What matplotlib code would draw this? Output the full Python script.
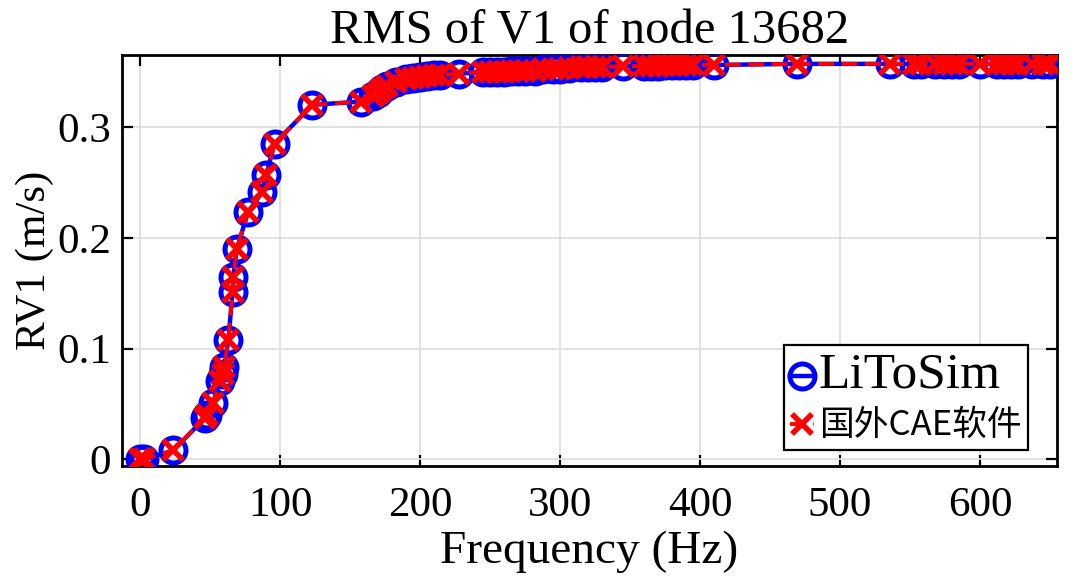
import numpy as np
import matplotlib
matplotlib.use("Agg")
import matplotlib.pyplot as plt

# frequency points (Hz) and RMS of V1 (m/s)
freq = [0, 3, 23.5, 46, 48, 52, 57, 59, 60, 63, 66, 66.5, 69, 77, 87, 90, 96,
        123, 158, 166, 170, 173, 176, 183, 190, 195, 200, 205, 210, 214,
        228, 245, 250, 255, 260, 265, 270, 275, 282, 288, 295, 300,
        306, 315, 320, 325, 330, 345, 360, 365, 370, 375, 380, 385, 390, 395,
        410, 469, 536, 553, 558, 568, 574, 580, 585, 600, 612, 617, 622, 627,
        637, 645, 650]
rv1_litosim = [0.000, 0.000, 0.008, 0.037, 0.040, 0.051, 0.071, 0.077, 0.083,
               0.108, 0.151, 0.165, 0.190, 0.223, 0.241, 0.257, 0.285,
               0.320, 0.323, 0.328, 0.331, 0.334, 0.337, 0.341, 0.343, 0.344,
               0.345, 0.346, 0.347, 0.347,
               0.348, 0.350, 0.350, 0.350, 0.350, 0.351, 0.351, 0.351, 0.351,
               0.352, 0.352, 0.352,
               0.353, 0.354, 0.354, 0.354, 0.354, 0.355, 0.355, 0.355, 0.355,
               0.356, 0.356, 0.356, 0.356, 0.356,
               0.356, 0.357, 0.357, 0.357, 0.357, 0.357, 0.357, 0.357, 0.357,
               0.357, 0.357, 0.357, 0.357, 0.357, 0.357, 0.357, 0.357]
rv1_cae = list(rv1_litosim)

serif = "Liberation Serif"

fig = plt.figure(figsize=(10.72, 5.76), dpi=100)
# axes box: 122..1057 px wide, 55..466 px tall
ax = fig.add_axes([122 / 1072, 1 - 466 / 576, 935 / 1072, 411 / 576])

ax.plot(freq, rv1_litosim, "-o", color="blue", lw=3.2, ms=18,
        mfc="none", mew=3.6, label="LiToSim", zorder=3)
ax.plot(freq, rv1_cae, "--x", color="red", lw=2.8, ms=14,
        mew=4, dashes=(4, 2), label="国外CAE软件", zorder=4)

ax.set_xlim(-13, 655)
ax.set_ylim(-0.006, 0.365)
ax.set_xticks([0, 100, 200, 300, 400, 500, 600])
ax.set_yticks([0, 0.1, 0.2, 0.3])
ax.set_yticklabels(["0", "0.1", "0.2", "0.3"])
ax.grid(True, color="#dedede", lw=1.3)
ax.set_axisbelow(True)

ax.tick_params(direction="in", top=True, right=True, length=8, width=1.6,
               labelsize=31)
ax.tick_params(axis="x", pad=15)
ax.tick_params(axis="y", pad=8)
for lab in ax.get_xticklabels() + ax.get_yticklabels():
    lab.set_fontfamily(serif)
for s in ax.spines.values():
    s.set_linewidth(2)

ax.set_title("RMS of V1 of node 13682", fontsize=35, family=serif, pad=8)
ax.set_xlabel("Frequency (Hz)", fontsize=34, family=serif, labelpad=4)
ax.set_ylabel("RV1 (m/s)", fontsize=31, family=serif, labelpad=2)

leg = ax.legend(loc="lower right", bbox_to_anchor=(0.969, 0.039),
                prop={"size": 24}, handlelength=0.7, handletextpad=0.15,
                borderpad=0.2, labelspacing=0.3, fancybox=False,
                framealpha=1, edgecolor="black", borderaxespad=0)
leg.get_frame().set_linewidth(1.6)
texts = leg.get_texts()
texts[0].set_fontfamily(serif)
texts[0].set_fontsize(37)
texts[1].set_fontfamily(["Noto Sans CJK SC", "DejaVu Sans"])
texts[1].set_fontsize(25)

fig.savefig("out.png", dpi=100)
